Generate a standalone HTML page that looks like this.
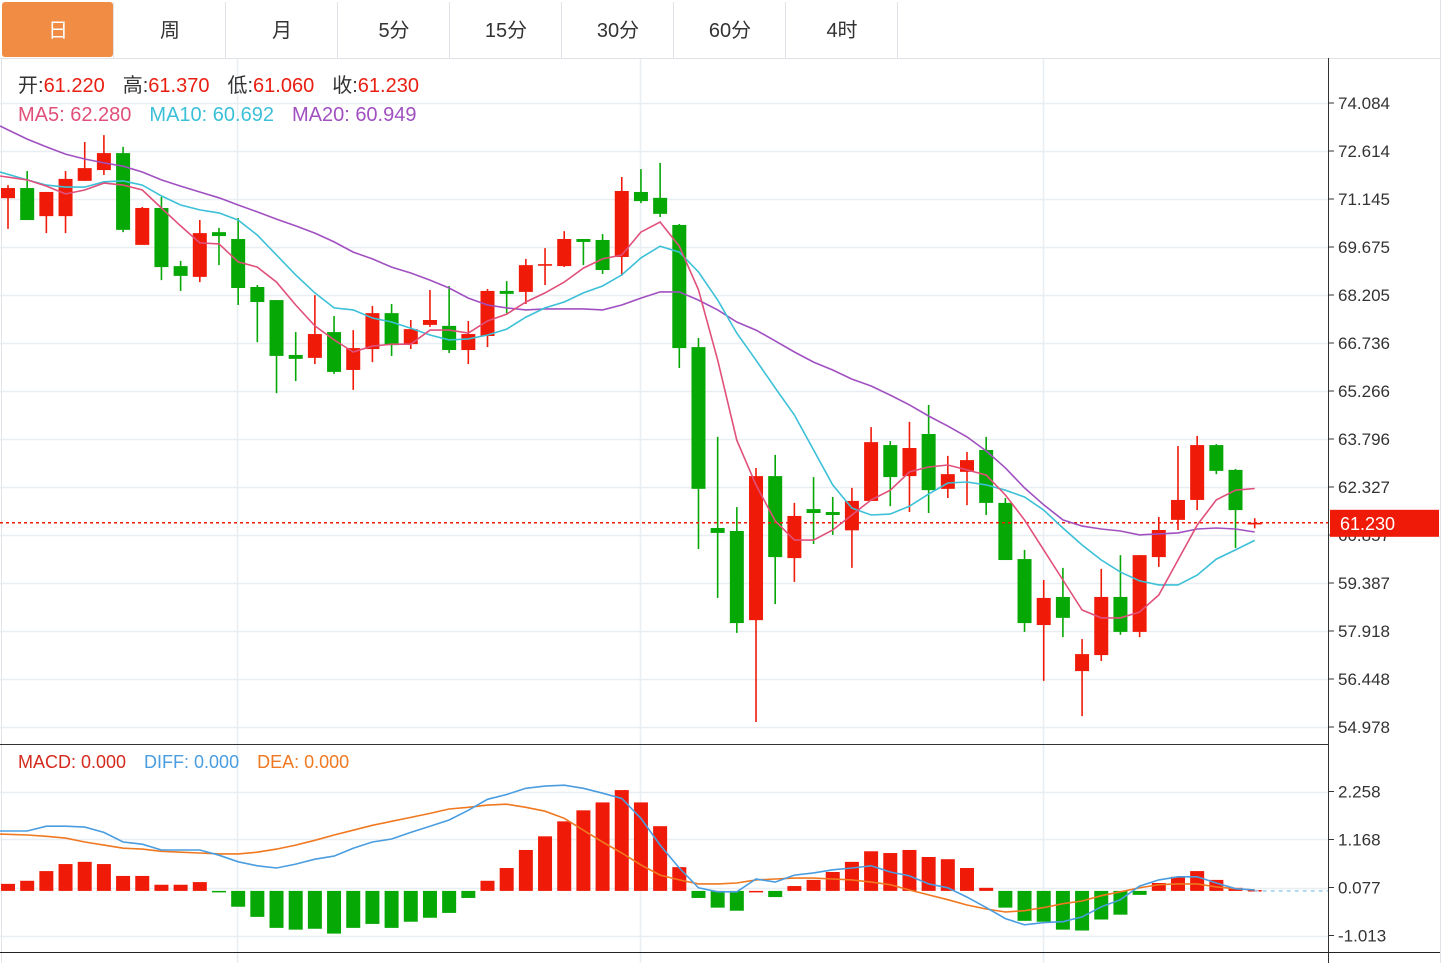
<!DOCTYPE html>
<html><head><meta charset="utf-8"><style>
html,body{margin:0;padding:0;background:#fff;width:1455px;height:963px;overflow:hidden}
svg{display:block;font-family:"Liberation Sans","Noto Sans CJK SC",sans-serif}
</style></head><body>
<svg id="c" width="1455" height="963" viewBox="0 0 1455 963" xmlns="http://www.w3.org/2000/svg">
<rect x="0" y="0" width="1455" height="963" fill="#fff"/>
<g id="tabs"></g>
<g id="grid"></g>
<g id="axis"></g>
<g id="candles"></g>
<g id="ma"></g>
<g id="macd"></g>
<g font-size="20">
<text x="18" y="92"><tspan fill="#333">开:</tspan><tspan fill="#e81e10">61.220</tspan><tspan fill="#333" dx="18">高:</tspan><tspan fill="#e81e10">61.370</tspan><tspan fill="#333" dx="18">低:</tspan><tspan fill="#e81e10">61.060</tspan><tspan fill="#333" dx="18">收:</tspan><tspan fill="#e81e10">61.230</tspan></text>
<text x="18" y="121"><tspan fill="#e0507a">MA5:  62.280</tspan><tspan fill="#3cc0d8" dx="18">MA10:  60.692</tspan><tspan fill="#a050c0" dx="18">MA20:  60.949</tspan></text>
</g>
<text x="18" y="768" font-size="18"><tspan fill="#d42a1e">MACD: 0.000</tspan><tspan fill="#4a9de0" dx="18">DIFF: 0.000</tspan><tspan fill="#f07820" dx="18">DEA: 0.000</tspan></text>
</svg>
<script>
const opens=[71.17,71.48,70.62,70.62,71.70,72.03,72.55,69.74,70.87,69.09,68.76,70.13,69.92,68.45,68.05,66.37,66.28,67.07,65.91,66.55,67.65,66.70,67.29,67.26,66.52,66.95,68.33,68.30,69.12,69.09,69.92,69.89,69.37,71.36,71.18,70.35,66.61,61.07,60.98,58.25,62.66,60.15,61.65,61.56,61.00,61.90,63.61,62.66,63.95,62.27,62.79,63.46,61.84,60.12,58.10,58.96,56.69,57.18,58.96,57.89,60.18,61.32,61.93,63.61,62.85,61.22];
const closes=[71.48,70.50,71.36,71.76,72.09,72.55,70.20,70.87,69.06,68.79,70.10,70.01,68.42,67.99,66.34,66.25,67.01,65.85,66.58,67.65,66.67,67.16,67.44,66.52,67.01,68.33,68.24,69.12,69.15,69.92,69.83,68.97,71.39,71.08,70.69,66.58,62.27,60.92,58.16,62.66,60.18,61.44,61.53,61.47,61.90,63.70,62.63,63.52,62.23,62.72,63.15,61.84,60.09,58.16,58.93,58.32,57.21,58.96,57.89,60.24,61.01,61.93,63.61,62.82,61.62,61.23];
const highs=[71.57,72.00,71.36,72.00,72.89,73.10,72.74,70.90,71.21,69.25,70.50,70.26,70.56,68.51,68.05,67.07,68.20,67.56,67.13,67.87,67.93,67.44,68.36,68.48,67.41,68.39,68.63,69.31,69.64,70.16,69.92,70.07,71.82,72.06,72.25,70.38,66.89,63.86,61.71,62.91,63.31,61.84,62.63,62.02,62.30,64.16,63.73,64.32,64.84,63.28,63.40,63.86,61.99,60.40,59.48,59.85,57.67,59.82,60.24,60.24,61.41,63.58,63.89,63.64,62.88,61.37];
const lows=[70.23,70.50,70.10,70.10,71.70,71.88,70.13,69.74,68.66,68.33,68.60,69.12,67.90,66.76,65.20,65.57,66.09,65.79,65.30,66.15,66.34,66.55,67.23,66.43,66.09,66.61,67.65,67.93,68.51,69.06,69.12,68.85,68.79,71.02,70.59,65.97,60.43,58.93,57.86,55.13,58.74,59.42,60.58,60.86,59.85,61.90,61.74,61.56,61.53,61.99,61.77,61.47,60.09,57.89,56.39,57.73,55.31,57.00,57.80,57.73,59.88,61.01,61.62,62.72,60.46,61.06];
const ma5=[71.85,71.73,71.54,71.30,71.42,71.63,71.57,71.42,70.87,70.32,69.80,69.77,69.22,69.06,68.60,67.90,67.26,66.83,66.46,66.64,66.70,66.70,67.13,67.13,67.04,67.41,67.62,67.99,68.27,68.60,69.03,69.31,69.43,70.13,70.44,69.70,68.36,66.21,63.76,62.39,61.29,60.70,60.70,61.01,61.47,61.93,62.23,62.79,62.94,63.00,62.85,62.69,62.08,61.32,60.40,59.48,58.56,58.32,58.32,58.50,59.02,60.09,61.16,61.93,62.23,62.28];
const ma10=[71.97,71.73,71.57,71.51,71.51,71.67,71.70,71.57,71.24,70.96,70.81,70.72,70.50,70.04,69.43,68.82,68.27,67.81,67.75,67.50,67.38,67.19,66.98,66.83,66.86,66.98,67.16,67.53,67.81,67.99,68.27,68.48,68.82,69.34,69.70,69.52,68.91,68.05,67.04,66.21,65.36,64.53,63.46,62.39,61.68,61.47,61.50,61.74,62.11,62.45,62.48,62.39,62.23,62.02,61.62,61.07,60.55,60.09,59.72,59.45,59.33,59.33,59.63,60.12,60.40,60.69];
const ma20=[73.38,72.98,72.74,72.52,72.37,72.25,72.15,71.97,71.73,71.54,71.36,71.18,70.96,70.75,70.53,70.32,70.10,69.83,69.52,69.31,69.06,68.88,68.66,68.42,68.11,67.90,67.81,67.75,67.78,67.78,67.78,67.75,67.90,68.11,68.30,68.30,68.05,67.75,67.38,67.13,66.80,66.46,66.15,65.91,65.63,65.42,65.14,64.84,64.50,64.19,63.86,63.43,62.91,62.30,61.78,61.32,61.13,61.04,60.98,60.86,60.89,60.92,61.04,61.07,61.04,60.95];
const macdHist=[0.16,0.23,0.45,0.61,0.66,0.61,0.34,0.34,0.14,0.14,0.2,-0.03,-0.36,-0.59,-0.84,-0.88,-0.86,-0.97,-0.84,-0.75,-0.84,-0.70,-0.61,-0.50,-0.16,0.23,0.52,0.93,1.24,1.58,1.83,2.01,2.29,2.01,1.47,0.54,-0.16,-0.38,-0.45,0,-0.14,0.11,0.25,0.43,0.66,0.90,0.86,0.93,0.77,0.72,0.52,0.07,-0.38,-0.68,-0.70,-0.88,-0.90,-0.65,-0.54,-0.09,0.18,0.32,0.45,0.25,0.07,0.02];
const diff=[1.36,1.36,1.47,1.47,1.45,1.33,1.11,1.06,0.93,0.93,0.93,0.81,0.66,0.57,0.52,0.61,0.72,0.79,0.97,1.11,1.18,1.33,1.47,1.61,1.83,2.08,2.19,2.33,2.38,2.40,2.33,2.22,2.10,1.65,1.04,0.52,0.07,-0.02,-0.02,0.27,0.20,0.36,0.41,0.48,0.52,0.57,0.43,0.34,0.16,0.07,-0.14,-0.38,-0.63,-0.77,-0.72,-0.70,-0.59,-0.36,-0.20,0.11,0.25,0.32,0.32,0.18,0.05,0.02];
const dea=[1.29,1.27,1.24,1.20,1.11,1.04,0.97,0.95,0.90,0.88,0.86,0.84,0.84,0.88,0.95,1.04,1.15,1.27,1.38,1.49,1.58,1.67,1.76,1.86,1.90,1.95,1.97,1.90,1.81,1.65,1.38,1.11,0.86,0.59,0.36,0.25,0.16,0.16,0.18,0.25,0.27,0.29,0.29,0.27,0.25,0.20,0.14,0.02,-0.09,-0.20,-0.32,-0.41,-0.48,-0.45,-0.38,-0.29,-0.23,-0.11,-0.02,0.07,0.14,0.16,0.16,0.09,0.05,0.02];
const priceTicks=["74.084","72.614","71.145","69.675","68.205","66.736","65.266","63.796","62.327","60.857","59.387","57.918","56.448","54.978"];
const macdTicks=["2.258","1.168","0.077","-1.013"];
const tabLabels=["日","周","月","5分","15分","30分","60分","4时"];
const lastPrice="61.230";

const NS="http://www.w3.org/2000/svg";
function mk(tag,attrs,parent){const e=document.createElementNS(NS,tag);for(const k in attrs)e.setAttribute(k,attrs[k]);parent.appendChild(e);return e;}
const pTop=74.084,pBot=54.978,yTop=103,yBot=727;
function yP(p){return yTop+(pTop-p)*(yBot-yTop)/(pTop-pBot);}
const mTop=2.258,mBot=-1.013,myTop=791.5,myBot=935.5;
function yM(v){return myTop+(mTop-v)*(myBot-myTop)/(mTop-mBot);}
function xI(i){return 8+i*19.18;}
const RED="#f01a08",GREEN="#06a806";

// tabs
const tabs=document.getElementById('tabs');
mk('rect',{x:0,y:0,width:1455,height:58,fill:'#fff'},tabs);
tabLabels.forEach((t,i)=>{
  const x=2+i*112;
  if(i===0){const r=mk('rect',{x:x,y:2,width:111,height:55,rx:3,fill:'#f08c44'},tabs);
    
    }
  const ln=mk('line',{x1:x+111.5,y1:2,x2:x+111.5,y2:58,stroke:'#dfe3e8'},tabs);
  
  
  const tx=mk('text',{x:x+56,y:37,'text-anchor':'middle','font-size':20,fill:i===0?'#fff':'#333'},tabs);
  tx.textContent=t;
  
  
});
mk('line',{x1:0,y1:58.5,x2:1440,y2:58.5,stroke:'#dfe3e8'},tabs);

// grid
const grid=document.getElementById('grid');
mk('line',{x1:1.5,y1:58,x2:1.5,y2:963,stroke:'#dfe3e8'},grid);
mk('line',{x1:1440.5,y1:0,x2:1440.5,y2:963,stroke:'#dfe3e8'},grid);
priceTicks.forEach(t=>{const y=Math.round(yP(parseFloat(t)))+0.5;
  const g=mk('line',{x1:0,y1:y,x2:1328,y2:y,stroke:'#e8eef2','stroke-width':1.5},grid);
  
  });
macdTicks.forEach(t=>{const y=Math.round(yM(parseFloat(t)))+0.5;
  const g=mk('line',{x1:0,y1:y,x2:1328,y2:y,stroke:'#e8eef2','stroke-width':1.5},grid);
  
  });
[237.5,640.5,1043.5].forEach(x=>{mk('line',{x1:x,y1:59,x2:x,y2:963,stroke:'#e8eef2','stroke-width':1.5},grid);});
mk('line',{x1:0,y1:744.5,x2:1328,y2:744.5,stroke:'#333'},grid);
mk('line',{x1:0,y1:952.5,x2:1328,y2:952.5,stroke:'#222'},grid);
mk('line',{x1:1328.5,y1:952.5,x2:1440,y2:952.5,stroke:'#222'},grid);

// axis
const ax=document.getElementById('axis');
mk('line',{x1:1328.5,y1:58,x2:1328.5,y2:963,stroke:'#333'},ax);
priceTicks.forEach(t=>{const y=yP(parseFloat(t));
  mk('line',{x1:1328,y1:y,x2:1334,y2:y,stroke:'#333'},ax);
  const tx=mk('text',{x:1338,y:y+6,'font-size':17,fill:'#333'},ax);tx.textContent=t;
  
  });
macdTicks.forEach(t=>{const y=yM(parseFloat(t));
  mk('line',{x1:1328,y1:y,x2:1334,y2:y,stroke:'#333'},ax);
  const tx=mk('text',{x:1338,y:y+6,'font-size':17,fill:'#333'},ax);tx.textContent=t;
  
  });

// candles
const cg=document.getElementById('candles');
opens.forEach((o,i)=>{
  const c=closes[i],up=c>=o,col=up?RED:GREEN,x=xI(i);
  const g=mk('g',{},cg);
  
  
  mk('line',{x1:x,y1:yP(highs[i]),x2:x,y2:yP(lows[i]),stroke:col,'stroke-width':1.6},g);
  const t=yP(Math.max(o,c)),b=yP(Math.min(o,c));
  mk('rect',{x:x-7,y:t,width:14,height:Math.max(b-t,1.6),fill:col},g);
});
// last price line
const lp=parseFloat(lastPrice),ly=yP(lp);
const pl=mk('line',{x1:0,y1:ly,x2:1328,y2:ly,stroke:RED,'stroke-width':1.5,'stroke-dasharray':'3,3'},cg);


mk('rect',{x:1330,y:ly-13,width:109,height:27,fill:RED},cg);
const lt=mk('text',{x:1340,y:ly+7,'font-size':18,fill:'#fff'},cg);lt.textContent=lastPrice;



// MA lines
const mg=document.getElementById('ma');
function line(arr,col,parent,yf,name,startX){
  let d='';arr.forEach((v,i)=>{d+=(i?'L':'M')+(i===0&&startX!==undefined?startX:xI(i)).toFixed(1)+','+yf(v).toFixed(1);});
  const p=mk('path',{d:d,fill:'none',stroke:col,'stroke-width':1.6},parent);
  
  
}
line(ma20,'#a050c0',mg,yP,'ma20-line',0);
line(ma10,'#3cc0d8',mg,yP,'ma10-line',0);
line(ma5,'#e0507a',mg,yP,'ma5-line',0);

// MACD
const mc=document.getElementById('macd');
const y0=yM(0);
macdHist.forEach((v,i)=>{
  const x=xI(i),y=yM(v);
  const r=mk('rect',{x:x-7,y:Math.min(y,y0),width:14,height:Math.max(Math.abs(y-y0),1.5),fill:v>=0?RED:GREEN},mc);
  
  
});
mk('line',{x1:xI(macdHist.length-1),y1:y0,x2:1328,y2:y0,stroke:'#9fd0f0','stroke-width':1.5,'stroke-dasharray':'4,4'},mc);
line(dea,'#f07820',mc,yM,'dea-line',0);
line(diff,'#4a9de0',mc,yM,'diff-line',0);
</script>
</body></html>
